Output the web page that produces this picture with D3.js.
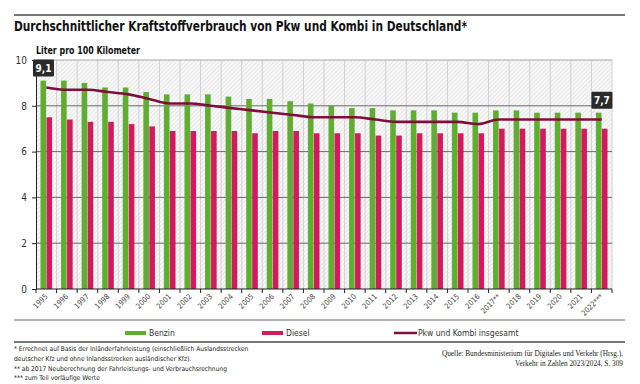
<!DOCTYPE html>
<html><head><meta charset="utf-8">
<script src="https://cdn.jsdelivr.net/npm/d3@7"></script>
<style>
html,body{margin:0;padding:0;background:#fff;}
svg{display:block;font-family:"DejaVu Sans Condensed","DejaVu Sans",sans-serif;}
</style></head>
<body>
<script>
const years = ["1995","1996","1997","1998","1999","2000","2001","2002","2003","2004","2005","2006","2007","2008","2009","2010","2011","2012","2013","2014","2015","2016","2017**","2018","2019","2020","2021","2022***"];
const benzin = [9.1,9.1,9.0,8.8,8.8,8.6,8.5,8.5,8.5,8.4,8.3,8.3,8.2,8.1,8.0,7.9,7.9,7.8,7.8,7.8,7.7,7.7,7.8,7.8,7.7,7.7,7.7,7.7];
const diesel = [7.5,7.4,7.3,7.3,7.2,7.1,6.9,6.9,6.9,6.9,6.8,6.9,6.9,6.8,6.8,6.8,6.7,6.7,6.8,6.8,6.8,6.8,7.0,7.0,7.0,7.0,7.0,7.0];
const gesamt = [8.8,8.7,8.7,8.6,8.5,8.3,8.1,8.1,8.0,7.9,7.8,7.7,7.6,7.5,7.5,7.5,7.4,7.3,7.3,7.3,7.3,7.2,7.4,7.4,7.4,7.4,7.4,7.4];
const yTicks = [0,2,4,6,8,10];
const labelIdx = [0, 27];
const labelTexts = ["9,1","7,7"];

const W=640,H=384;
const svg=d3.select("body").append("svg").attr("width",W).attr("height",H);
const defs=svg.append("defs");
const pat=defs.append("pattern").attr("id","hatch").attr("patternUnits","userSpaceOnUse")
  .attr("width",3).attr("height",3).attr("patternTransform","rotate(45)");
pat.append("rect").attr("width",3).attr("height",3).attr("fill","#f8f8f8");
pat.append("line").attr("x1",0).attr("y1",0).attr("x2",0).attr("y2",3).attr("stroke","#d6d6d6").attr("stroke-width",1);

const L=36,R=612,T=60,B=289;
const x=d3.scaleBand().domain(years).range([L,R]).paddingInner(0).paddingOuter(0);
const y=d3.scaleLinear().domain([0,10]).range([B,T]);

// top rule
svg.append("line").attr("x1",14).attr("x2",625).attr("y1",15).attr("y2",15).attr("stroke","#777").attr("stroke-width",2);
// title
function fit(sel,w){const n=sel.node();const l=n.getComputedTextLength();if(l>0)sel.attr("textLength",w).attr("lengthAdjust","spacingAndGlyphs");}
const title=svg.append("text").attr("x",14).attr("y",31).attr("font-size",14).attr("font-weight","bold").attr("fill","#111")
  .text("Durchschnittlicher Kraftstoffverbrauch von Pkw und Kombi in Deutschland*");
fit(title,453);
const unit=svg.append("text").attr("x",36).attr("y",54).attr("font-size",10).attr("font-weight","bold").attr("fill","#111")
  .text("Liter pro 100 Kilometer");
fit(unit,104);

// plot background
svg.append("rect").attr("x",L).attr("y",T).attr("width",R-L).attr("height",B-T).attr("fill","url(#hatch)");
// vertical grid
svg.append("g").selectAll("line").data(years.slice(1)).join("line")
  .attr("x1",d=>x(d)).attr("x2",d=>x(d)).attr("y1",T).attr("y2",B).attr("stroke","#d2d2d2").attr("stroke-width",1);
svg.append("line").attr("x1",R).attr("x2",R).attr("y1",T).attr("y2",B).attr("stroke","#d2d2d2");
// horizontal grid
svg.append("g").selectAll("line").data(yTicks.filter(d=>d>0)).join("line")
  .attr("x1",L).attr("x2",R).attr("y1",d=>y(d)).attr("y2",d=>y(d))
  .attr("stroke",d=>d===10?"#a8a8a8":"#6a6a6a").attr("stroke-width",1);

// bars
const bw=5.6;
const gB=svg.append("g");
gB.selectAll("rect.b").data(years).join("rect").attr("class","b")
  .attr("x",d=>x(d)+x.bandwidth()/2-bw-0.2).attr("width",bw)
  .attr("y",(d,i)=>y(benzin[i])).attr("height",(d,i)=>y(0)-y(benzin[i])).attr("fill","#5fae31");
gB.selectAll("rect.d").data(years).join("rect").attr("class","d")
  .attr("x",d=>x(d)+x.bandwidth()/2+0.2).attr("width",bw)
  .attr("y",(d,i)=>y(diesel[i])).attr("height",(d,i)=>y(0)-y(diesel[i])).attr("fill","#d31b5b");

// line
const line=d3.line().x((d,i)=>x(years[i])+x.bandwidth()/2).y(d=>y(d)).curve(d3.curveMonotoneX);
svg.append("path").datum(gesamt).attr("d",line).attr("fill","none").attr("stroke","#7d0f3c").attr("stroke-width",2.6);

// axes
const ya=d3.axisLeft(y).tickValues(yTicks).tickSize(4).tickFormat(d3.format("d"));
const yg=svg.append("g").attr("transform",`translate(${L},0)`).call(ya);
yg.select(".domain").attr("stroke","#222");
yg.selectAll(".tick line").attr("stroke","#222");
yg.selectAll("text").attr("font-size",10).attr("fill","#333").attr("x",-9).attr("font-family","DejaVu Sans Condensed, DejaVu Sans, sans-serif");

const xa=svg.append("g");
xa.append("line").attr("x1",L).attr("x2",R).attr("y1",B).attr("y2",B).attr("stroke","#222").attr("stroke-width",1.2);
xa.selectAll("line.t").data(years.concat(["__end"])).join("line").attr("class","t")
  .attr("x1",(d,i)=>L+i*x.step()).attr("x2",(d,i)=>L+i*x.step()).attr("y1",B).attr("y2",B+4).attr("stroke","#222");
xa.selectAll("text").data(years).join("text")
  .attr("transform",d=>`translate(${x(d)+x.bandwidth()/2+2},${B+8}) rotate(-45)`)
  .attr("text-anchor","end").attr("font-size",7.5).attr("fill","#444").text(d=>d);

// value labels
labelIdx.forEach((idx,k)=>{
  const cx=x(years[idx])+x.bandwidth()/2-bw/2+(k===1?3:0);
  const top=y(benzin[idx])-4;
  const g=svg.append("g");
  g.append("rect").attr("x",cx-10.5).attr("y",top-17).attr("width",21).attr("height",17).attr("fill","#2b2b2b").attr("rx",1);
  g.append("text").attr("x",cx).attr("y",top-4.5).attr("text-anchor","middle").attr("font-size",10).attr("font-weight","bold").attr("fill","#fff").text(labelTexts[k]);
});

// separators
svg.append("line").attr("x1",14).attr("x2",625).attr("y1",320).attr("y2",320).attr("stroke","#999").attr("stroke-width",1.5);
svg.append("line").attr("x1",14).attr("x2",625).attr("y1",342).attr("y2",342).attr("stroke","#777").attr("stroke-width",2);

// legend
const leg=[{t:"Benzin",c:"#5fae31",x:125,h:4},{t:"Diesel",c:"#d31b5b",x:262,h:4},{t:"Pkw und Kombi insgesamt",c:"#7d0f3c",x:394,h:2.5}];
leg.forEach(l=>{
  svg.append("rect").attr("x",l.x).attr("y",333-l.h/2).attr("width",l.x===394?23:21).attr("height",l.h).attr("fill",l.c);
  svg.append("text").attr("x",l.x+24).attr("y",336).attr("font-size",8.5).attr("fill","#333").text(l.t);
});

// footnotes
const foot=["* Errechnet auf Basis der Inländerfahrleistung (einschließlich Auslandsstrecken","deutscher Kfz und ohne Inlandsstrecken ausländischer Kfz).","** ab 2017 Neuberechnung der Fahrleistungs- und Verbrauchsrechnung","*** zum Teil vorläufige Werte"];
foot.forEach((f,i)=>{
  svg.append("text").attr("x",14).attr("y",351+i*9.8).attr("font-size",6.6).attr("fill","#222").text(f);
});
const src=["Quelle: Bundesministerium für Digitales und Verkehr (Hrsg.),","Verkehr in Zahlen 2023/2024, S. 309"];
src.forEach((f,i)=>{
  svg.append("text").attr("x",623).attr("y",356+i*10).attr("text-anchor","end").attr("font-size",7.3)
    .attr("font-family","Liberation Serif, DejaVu Serif, serif").attr("fill","#222").text(f);
});
</script>
</body></html>
